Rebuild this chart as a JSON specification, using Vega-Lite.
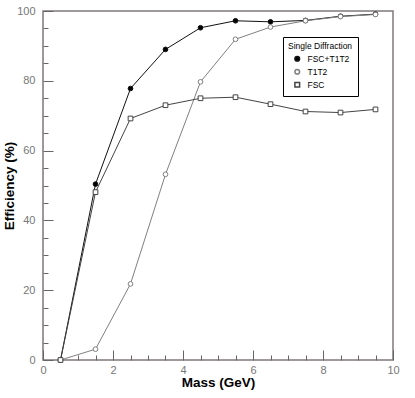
{
  "$schema": "https://vega.github.io/schema/vega-lite/v6.json",
  "width": 350,
  "height": 349,
  "autosize": {"type": "none"},
  "padding": {"left": 43, "top": 11, "right": 22, "bottom": 38},
  "background": "white",
  "config": {
    "view": {"stroke": "#807878", "strokeWidth": 1.5},
    "font": "Liberation Sans",
    "axis": {
      "grid": false,
      "domain": false,
      "ticks": true,
      "zindex": 1,
      "tickColor": "#666",
      "tickWidth": 1,
      "tickOpacity": 1,
      "labelFont": "Liberation Sans",
      "labelFontSize": 11,
      "labelColor": "#777",
      "titleFont": "Liberation Sans",
      "titleFontSize": 13.5,
      "titleFontWeight": "bold",
      "titleColor": "black"
    },
    "legend": {
      "titleFontWeight": "normal",
      "titleFontSize": 8.5,
      "titleColor": "black",
      "titlePadding": 4,
      "labelFontSize": 8.5,
      "labelColor": "black",
      "labelOffset": 6,
      "symbolOffset": 5,
      "fillColor": "white",
      "strokeColor": "black",
      "padding": 5,
      "rowPadding": 1,
      "symbolSize": 22
    }
  },
  "data": {
    "values": [
      {"series": "FSC+T1T2", "mass": 0.5, "eff": 0},
      {"series": "FSC+T1T2", "mass": 1.5, "eff": 50.4},
      {"series": "FSC+T1T2", "mass": 2.5, "eff": 77.8},
      {"series": "FSC+T1T2", "mass": 3.5, "eff": 89.0},
      {"series": "FSC+T1T2", "mass": 4.5, "eff": 95.2},
      {"series": "FSC+T1T2", "mass": 5.5, "eff": 97.2},
      {"series": "FSC+T1T2", "mass": 6.5, "eff": 96.9},
      {"series": "FSC+T1T2", "mass": 7.5, "eff": 97.3},
      {"series": "FSC+T1T2", "mass": 8.5, "eff": 98.5},
      {"series": "FSC+T1T2", "mass": 9.5, "eff": 99.1},
      {"series": "T1T2", "mass": 0.5, "eff": 0},
      {"series": "T1T2", "mass": 1.5, "eff": 3.1},
      {"series": "T1T2", "mass": 2.5, "eff": 21.8},
      {"series": "T1T2", "mass": 3.5, "eff": 53.2},
      {"series": "T1T2", "mass": 4.5, "eff": 79.7},
      {"series": "T1T2", "mass": 5.5, "eff": 91.9},
      {"series": "T1T2", "mass": 6.5, "eff": 95.4},
      {"series": "T1T2", "mass": 7.5, "eff": 97.2},
      {"series": "T1T2", "mass": 8.5, "eff": 98.4},
      {"series": "T1T2", "mass": 9.5, "eff": 99.0},
      {"series": "FSC", "mass": 0.5, "eff": 0},
      {"series": "FSC", "mass": 1.5, "eff": 48.1},
      {"series": "FSC", "mass": 2.5, "eff": 69.2},
      {"series": "FSC", "mass": 3.5, "eff": 73.0},
      {"series": "FSC", "mass": 4.5, "eff": 75.0},
      {"series": "FSC", "mass": 5.5, "eff": 75.3},
      {"series": "FSC", "mass": 6.5, "eff": 73.3},
      {"series": "FSC", "mass": 7.5, "eff": 71.2},
      {"series": "FSC", "mass": 8.5, "eff": 70.9},
      {"series": "FSC", "mass": 9.5, "eff": 71.8}
    ]
  },
  "resolve": {"axis": {"x": "independent", "y": "independent"}},
  "layer": [
    {
      "mark": {"type": "line", "strokeWidth": 1},
      "encoding": {
        "x": {
          "field": "mass",
          "type": "quantitative",
          "scale": {"domain": [0, 10], "nice": false},
          "axis": {
            "orient": "bottom",
            "title": "Mass (GeV)",
            "values": [0, 2, 4, 6, 8, 10],
            "format": "d",
            "offset": -10,
            "tickSize": 10,
            "labelPadding": 4,
            "titlePadding": 0,
            "labelFlush": false
          }
        },
        "y": {
          "field": "eff",
          "type": "quantitative",
          "scale": {"domain": [0, 100], "nice": false},
          "axis": {
            "orient": "left",
            "title": "Efficiency (%)",
            "values": [0, 20, 40, 60, 80, 100],
            "offset": -10,
            "tickSize": 10,
            "labelPadding": 8,
            "titlePadding": 0,
            "labelFlush": false
          }
        },
        "stroke": {
          "field": "series",
          "type": "nominal",
          "scale": {"domain": ["FSC+T1T2", "T1T2", "FSC"], "range": ["#111111", "#808080", "#444444"]},
          "title": "Single Diffraction",
          "legend": {"orient": "none", "legendX": 240, "legendY": 26}
        }
      }
    },
    {
      "mark": {"type": "point", "size": 22, "strokeWidth": 1, "opacity": 1},
      "encoding": {
        "x": {
          "field": "mass",
          "type": "quantitative",
          "axis": {
            "orient": "bottom",
            "title": null,
            "labels": false,
            "values": [0.5, 1, 1.5, 2.5, 3, 3.5, 4.5, 5, 5.5, 6.5, 7, 7.5, 8.5, 9, 9.5],
            "offset": -5,
            "tickSize": 5
          }
        },
        "y": {
          "field": "eff",
          "type": "quantitative",
          "axis": {
            "orient": "left",
            "title": null,
            "labels": false,
            "values": [5, 10, 15, 25, 30, 35, 45, 50, 55, 65, 70, 75, 85, 90, 95],
            "offset": -5,
            "tickSize": 5
          }
        },
        "stroke": {
          "field": "series",
          "type": "nominal",
          "title": "Single Diffraction",
          "legend": {"orient": "none", "legendX": 240, "legendY": 26}
        },
        "fill": {
          "field": "series",
          "type": "nominal",
          "scale": {"domain": ["FSC+T1T2", "T1T2", "FSC"], "range": ["#000000", "#ffffff", "#ffffff"]},
          "title": "Single Diffraction",
          "legend": {"orient": "none", "legendX": 240, "legendY": 26}
        },
        "shape": {
          "field": "series",
          "type": "nominal",
          "scale": {"domain": ["FSC+T1T2", "T1T2", "FSC"], "range": ["circle", "circle", "square"]},
          "title": "Single Diffraction",
          "legend": {"orient": "none", "legendX": 240, "legendY": 26}
        }
      }
    }
  ]
}
